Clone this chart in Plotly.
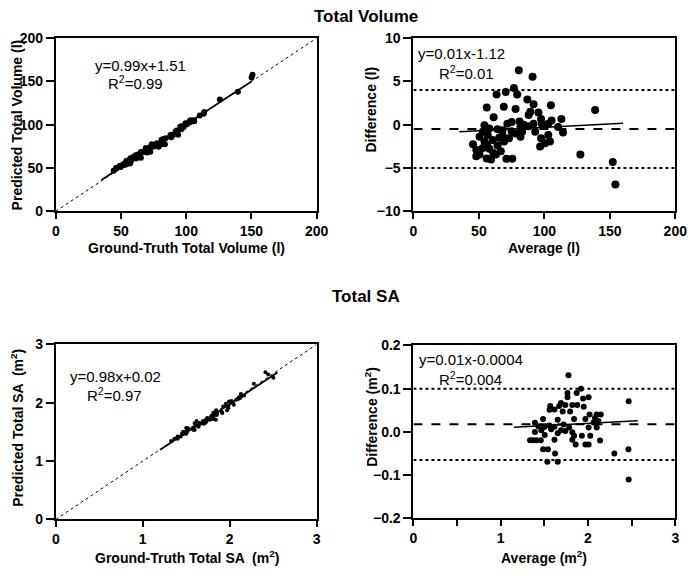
import plotly.graph_objects as go

W, H = 700, 578

# ---------------- data: Total Volume (Bland-Altman read-off) ----------------
vol_avg = [80.5, 91, 76.75, 79.25, 70.5, 63.5, 87, 91.75, 105, 56, 69, 78, 138.75, 89.25, 95.5,
           88, 97.5, 113, 61.25, 81, 75, 71.75, 54.25, 84.25, 91.75, 98, 103, 105.5, 58, 64.25,
           68, 75, 81.75, 88, 93, 100.5, 110.5, 114.25, 50.5, 56.75, 65.5, 73, 81.75, 97.5, 103,
           54.25, 60.5, 69.25, 104.25, 100.5, 96.75, 45.5, 56.25, 64.25, 48, 58, 66.75, 50.5, 61,
           127.5, 48, 56, 59.25, 71, 75.5, 152.25, 154.25, 63, 53, 53, 68, 78, 83]
vol_diff = [6.3, 5.55, 4.24, 3.49, 3.79, 3.49, 2.92, 2.36, 2.25, 1.99, 2.06, 1.8, 1.69, 1.5, 1.42,
            1.12, 0.67, 0.67, 0.86, 0.37, 0.3, 0.11, -0.07, 0.0, 0.11, 0.11, 0.11, 0.49, -0.45, -0.52,
            -0.64, -0.75, -0.26, -0.19, -0.82, -0.07, -0.26, -0.9, -1.39, -1.2, -1.5, -1.57, -1.39, -1.57, -1.2,
            -1.95, -1.76, -1.95, -1.95, -2.14, -2.51, -2.25, -2.32, -2.4, -2.89, -2.77, -3.07, -3.45, -3.26,
            -3.45, -3.64, -3.9, -4.01, -3.94, -3.94, -4.31, -6.9, -3.45, -2.7, -0.82, -1.2, -1.01, -0.82]
# difference = ground truth - predicted
vol_gt = [a + d / 2 for a, d in zip(vol_avg, vol_diff)]
vol_pred = [a - d / 2 for a, d in zip(vol_avg, vol_diff)]

vol_fit_x = [35, 150]          # regression y = 0.99x + 1.51
vol_fit = (0.99, 1.51)
vol_ba_fit_x = [35, 160]       # regression y = 0.01x - 1.12
vol_ba_fit = (0.008, -1.11)
vol_bias, vol_lo, vol_hi = -0.5, -5.0, 4.0

# ---------------- data: Total SA ----------------
sa_avg = [1.776, 1.92, 1.765, 1.87, 2.007, 1.765, 1.944, 2.466, 1.69, 1.567, 1.67, 1.74, 1.82, 1.877,
          1.951, 1.56, 1.616, 1.71, 1.795, 2.018, 2.1, 2.146, 1.485, 1.97, 2.08, 1.653, 1.84, 1.392,
          2.063, 2.119, 1.43, 1.504, 1.56, 1.616, 1.72, 1.784, 2.007, 2.1, 1.392, 1.466, 1.578, 1.69,
          1.74, 1.82, 1.504, 1.653, 1.84, 1.93, 2.026, 1.336, 1.373, 1.41, 1.459, 1.616, 1.82, 2.138,
          1.858, 1.97, 2.007, 1.485, 1.541, 2.463, 1.623, 2.302, 1.534, 1.653, 2.466]
sa_diff = [0.131, 0.10, 0.09, 0.09, 0.08, 0.08, 0.077, 0.071, 0.067, 0.06, 0.06, 0.062, 0.062, 0.062,
           0.058, 0.051, 0.052, 0.047, 0.047, 0.04, 0.04, 0.04, 0.03, 0.03, 0.032, 0.028, 0.03, 0.021,
           0.022, 0.025, 0.013, 0.012, 0.015, 0.012, 0.017, 0.01, 0.01, 0.01, 0.0, 0.004, 0.006, 0.004,
           0.002, -0.001, -0.007, -0.003, -0.009, -0.009, -0.009, -0.019, -0.019, -0.019, -0.019, -0.018, -0.018, -0.02,
           -0.029, -0.029, -0.029, -0.04, -0.04, -0.04, -0.05, -0.05, -0.069, -0.069, -0.11]
sa_gt = [a + d / 2 for a, d in zip(sa_avg, sa_diff)]
sa_pred = [a - d / 2 for a, d in zip(sa_avg, sa_diff)]

sa_fit_x = [1.2, 2.55]         # regression y = 0.98x + 0.02
sa_fit = (0.98, 0.02)
sa_ba_fit_x = [1.15, 2.57]     # regression y = 0.01x - 0.0004
sa_ba_fit = (0.0106, -0.0012)
sa_bias, sa_lo, sa_hi = 0.0175, -0.065, 0.100

FONT = "Liberation Sans, Arial, sans-serif"


def px(x):
    return x / W


def py(y):
    return 1 - y / H


fig = go.Figure()

panels = {
    "tl": ("x", "y", (53, 320), (31, 209)),
    "tr": ("x2", "y2", (419, 687), (31, 209)),
    "bl": ("x3", "y3", (53, 320), (346, 526)),
    "br": ("x4", "y4", (419, 687), (347, 525)),
}


def line(xs, ys, ax, dash="solid", width=1.5):
    fig.add_trace(go.Scatter(x=xs, y=ys, mode="lines", xaxis=ax[0], yaxis=ax[1],
                             line=dict(color="black", width=width, dash=dash),
                             showlegend=False, hoverinfo="skip"))


def pts(xs, ys, ax, size):
    fig.add_trace(go.Scatter(x=xs, y=ys, mode="markers", xaxis=ax[0], yaxis=ax[1],
                             marker=dict(color="black", size=size, line=dict(width=0)),
                             showlegend=False))


ax = panels["tl"]
line([0, 200], [0, 200], ax, dash="dot", width=1)
line(vol_fit_x, [vol_fit[0] * x + vol_fit[1] for x in vol_fit_x], ax, width=1.8)
pts(vol_gt, vol_pred, ax, 6)

ax = panels["tr"]
line([0, 200], [vol_hi, vol_hi], ax, dash="dot", width=2)
line([0, 200], [vol_lo, vol_lo], ax, dash="dot", width=2)
line([0, 200], [vol_bias, vol_bias], ax, dash="dash", width=2)
line(vol_ba_fit_x, [vol_ba_fit[0] * x + vol_ba_fit[1] for x in vol_ba_fit_x], ax, width=1.5)
pts(vol_avg, vol_diff, ax, 8)

ax = panels["bl"]
line([0, 3], [0, 3], ax, dash="dot", width=1)
line(sa_fit_x, [sa_fit[0] * x + sa_fit[1] for x in sa_fit_x], ax, width=1.8)
pts(sa_gt, sa_pred, ax, 4)

ax = panels["br"]
line([0, 3], [sa_hi, sa_hi], ax, dash="dot", width=2)
line([0, 3], [sa_lo, sa_lo], ax, dash="dot", width=2)
line([0, 3], [sa_bias, sa_bias], ax, dash="dash", width=2)
line(sa_ba_fit_x, [sa_ba_fit[0] * x + sa_ba_fit[1] for x in sa_ba_fit_x], ax, width=1.5)
pts(sa_avg, sa_diff, ax, 6)

tickfont = dict(family=FONT, size=14, color="black", weight="bold")
common = dict(showline=True, mirror=True, linecolor="black", linewidth=2, ticks="outside",
              ticklen=6, tickwidth=2, tickcolor="black", showgrid=False, zeroline=False,
              tickfont=tickfont, fixedrange=True)

layout_axes = {}
specs = {
    "tl": dict(xr=[0, 200], xt=[0, 50, 100, 150, 200], yr=[0, 200], yt=[0, 50, 100, 150, 200], yfmt=None),
    "tr": dict(xr=[0, 200], xt=[0, 50, 100, 150, 200], yr=[-10, 10], yt=[-10, -5, 0, 5, 10], yfmt=None),
    "bl": dict(xr=[0, 3], xt=[0, 1, 2, 3], yr=[0, 3], yt=[0, 1, 2, 3], yfmt=None),
    "br": dict(xr=[0, 3], xt=[0, 1, 2, 3], yr=[-0.2, 0.2], yt=[-0.2, -0.1, 0.0, 0.1, 0.2], yfmt=".1f"),
}
for key, (xa, ya, (x0, x1), (y0, y1)) in panels.items():
    s = specs[key]
    xname = "xaxis" + xa[1:]
    yname = "yaxis" + ya[1:]
    xd = dict(common, domain=[px(x0), px(x1)], range=s["xr"], tickvals=s["xt"], anchor=ya)
    yd = dict(common, domain=[py(y1), py(y0)], range=s["yr"], tickvals=s["yt"], anchor=xa,
              ticklen=8)
    if s["yfmt"]:
        yd["tickformat"] = s["yfmt"]
    if key == "br":
        xd["minor"] = dict(tickvals=[0.5, 1.5, 2.5], ticks="outside", ticklen=6, tickwidth=2,
                           tickcolor="black", showgrid=False)
    layout_axes[xname] = xd
    layout_axes[yname] = yd

ann = []


def text(x, y, t, size=15, bold=False, angle=0):
    ann.append(dict(x=px(x), y=py(y), xref="paper", yref="paper", text=t, showarrow=False,
                    xanchor="center", yanchor="middle", textangle=angle,
                    font=dict(family=FONT, size=size, color="black",
                              weight="bold" if bold else "normal")))


text(370, 9, "Total Volume", size=17, bold=True)
text(370, 297, "Total SA", size=17, bold=True)

text(187, 247, "Ground-Truth Total Volume (l)", size=14, bold=True)
text(553, 247, "Average (l)", size=14, bold=True)
text(13, 120, "Predicted Total Volume (l)", size=14, bold=True, angle=-90)
text(376, 104, "Difference (l)", size=14, bold=True, angle=-90)
text(187, 565, "Ground-Truth Total SA  (m<sup>2</sup>)", size=14, bold=True)
text(553, 565, "Average (m<sup>2</sup>)", size=14, bold=True)
text(13, 432, "Predicted Total SA  (m<sup>2</sup>)", size=14, bold=True, angle=-90)
text(376, 420, "Difference (m<sup>2</sup>)", size=14, bold=True, angle=-90)

text(140, 59, "y=0.99x+1.51")
text(135, 77, "R<sup>2</sup>=0.99")
text(468, 47, "y=0.01x-1.12")
text(473, 66, "R<sup>2</sup>=0.01")
text(114, 379, "y=0.98x+0.02")
text(113, 397, "R<sup>2</sup>=0.97")
text(478, 362, "y=0.01x-0.0004")
text(477, 381, "R<sup>2</sup>=0.004")

fig.update_layout(width=W, height=H, margin=dict(l=0, r=0, t=0, b=0),
                  paper_bgcolor="white", plot_bgcolor="white", showlegend=False,
                  annotations=ann, **layout_axes)

fig.write_html("out.html")
